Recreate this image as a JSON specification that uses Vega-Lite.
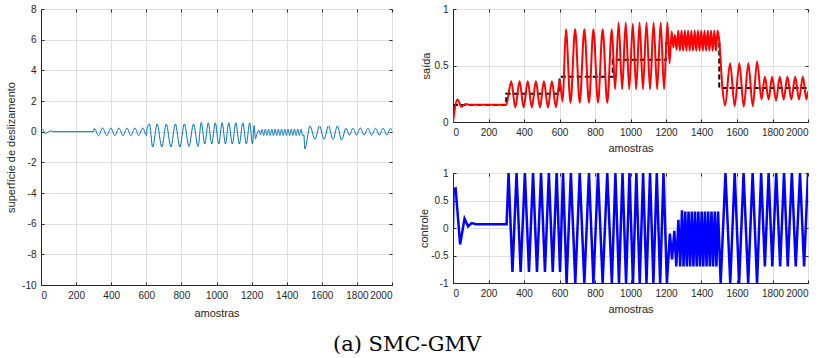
{
  "$schema": "https://vega.github.io/schema/vega-lite/v6.json",
  "padding": {"left": 5, "top": 3, "right": 0, "bottom": 0},
  "background": "white",
  "config": {
    "view": {"stroke": "#262626", "strokeWidth": 1},
    "axis": {
      "labelFont": "Liberation Sans", "labelFontSize": 10, "labelColor": "#262626",
      "titleFont": "Liberation Sans", "titleFontSize": 11, "titleFontWeight": "normal", "titleColor": "#262626",
      "domainColor": "#262626", "tickColor": "#262626", "tickSize": -3, "labelPadding": 8,
      "gridColor": "#dfdfdf", "gridWidth": 1, "labelExpr": "'' + datum.value"
    }
  },
  "title": {"text": "(a) SMC-GMV", "orient": "bottom", "font": "DejaVu Serif", "fontSize": 21, "fontWeight": "normal", "color": "#000000", "offset": 15, "anchor": "middle"},
  "datasets": {
    "s": [
      {"n":0,"v":0.25},{"n":12,"v":0.12},{"n":25,"v":-0.12},{"n":40,"v":-0.03},{"n":55,"v":0.05},{"n":75,"v":0.0},{"n":300,"v":0.0},
      {"n":303,"v":0.22},{"n":328,"v":-0.26},{"n":351,"v":0.24},{"n":375,"v":-0.26},{"n":398,"v":0.24},{"n":421,"v":-0.26},{"n":444,"v":0.24},{"n":467,"v":-0.26},{"n":490,"v":0.24},{"n":512,"v":-0.26},{"n":535,"v":0.24},{"n":557,"v":-0.26},{"n":580,"v":0.24},{"n":601,"v":-0.25},
      {"n":604,"v":0.2},{"n":618,"v":0.5},{"n":636,"v":-1.0},{"n":662,"v":0.5},{"n":688,"v":-1.0},{"n":714,"v":0.5},{"n":740,"v":-1.0},{"n":766,"v":0.5},{"n":791,"v":-1.0},{"n":817,"v":0.5},{"n":843,"v":-0.97},{"n":869,"v":0.5},{"n":895,"v":-0.97},
      {"n":913,"v":0.6},{"n":933,"v":-0.8},{"n":953,"v":0.58},{"n":973,"v":-0.8},{"n":993,"v":0.58},{"n":1013,"v":-0.8},{"n":1032,"v":0.58},{"n":1051,"v":-0.8},{"n":1070,"v":0.58},{"n":1090,"v":-0.8},{"n":1110,"v":0.58},{"n":1130,"v":-0.8},{"n":1150,"v":0.58},{"n":1170,"v":-0.8},{"n":1189,"v":0.58},{"n":1205,"v":-0.8},
      {"n":1214,"v":0.4},{"n":1222,"v":-0.45},{"n":1232,"v":-0.1},{"n":1241,"v":0.1},{"n":1250.5,"v":-0.2},{"n":1259.5,"v":0.15},{"n":1269,"v":-0.25},{"n":1278,"v":0.16},{"n":1287.5,"v":-0.25},{"n":1296.5,"v":0.16},{"n":1306,"v":-0.25},{"n":1315,"v":0.16},{"n":1324.5,"v":-0.25},{"n":1333.5,"v":0.16},{"n":1343,"v":-0.25},{"n":1352,"v":0.16},{"n":1361.5,"v":-0.25},{"n":1370.5,"v":0.16},{"n":1380,"v":-0.25},{"n":1389,"v":0.16},{"n":1398.5,"v":-0.25},{"n":1407.5,"v":0.16},{"n":1417,"v":-0.25},{"n":1426,"v":0.16},{"n":1435.5,"v":-0.25},{"n":1444.5,"v":0.16},{"n":1454,"v":-0.25},{"n":1463,"v":0.16},{"n":1472.5,"v":-0.25},{"n":1481.5,"v":0.16},{"n":1491,"v":-0.25},
      {"n":1498,"v":-0.2},{"n":1503,"v":-1.12},{"n":1533,"v":0.37},{"n":1561,"v":-0.5},{"n":1587,"v":0.37},{"n":1613,"v":-0.5},{"n":1638,"v":0.38},{"n":1664,"v":-0.5},{"n":1689,"v":0.37},{"n":1713,"v":-0.55},
      {"n":1738,"v":0.22},{"n":1757,"v":-0.22},{"n":1778,"v":0.22},{"n":1798,"v":-0.22},{"n":1820,"v":0.24},{"n":1841,"v":-0.22},{"n":1863,"v":0.22},{"n":1884,"v":-0.22},{"n":1906,"v":0.22},{"n":1928,"v":-0.22},{"n":1949,"v":0.22},{"n":1971,"v":-0.22},{"n":1991,"v":0.22},{"n":2000,"v":0.08}
    ],
    "y": [
      {"n":0,"v":0},{"n":25,"v":0.2},{"n":48,"v":0.135},{"n":72,"v":0.16},{"n":95,"v":0.152},{"n":300,"v":0.152},
      {"n":328,"v":0.36},{"n":351,"v":0.13},{"n":375,"v":0.36},{"n":398,"v":0.13},{"n":421,"v":0.36},{"n":444,"v":0.13},{"n":467,"v":0.36},{"n":490,"v":0.13},{"n":512,"v":0.36},{"n":535,"v":0.13},{"n":557,"v":0.36},{"n":580,"v":0.13},{"n":601,"v":0.37},
      {"n":618,"v":0.18},{"n":636,"v":0.82},{"n":662,"v":0.17},{"n":688,"v":0.82},{"n":714,"v":0.17},{"n":740,"v":0.82},{"n":766,"v":0.17},{"n":791,"v":0.82},{"n":817,"v":0.17},{"n":843,"v":0.82},{"n":869,"v":0.17},{"n":895,"v":0.82},
      {"n":913,"v":0.29},{"n":933,"v":0.88},{"n":953,"v":0.29},{"n":973,"v":0.88},{"n":993,"v":0.29},{"n":1013,"v":0.87},{"n":1032,"v":0.29},{"n":1051,"v":0.88},{"n":1070,"v":0.29},{"n":1090,"v":0.88},{"n":1110,"v":0.29},{"n":1130,"v":0.88},{"n":1150,"v":0.29},{"n":1170,"v":0.88},{"n":1189,"v":0.29},{"n":1208,"v":0.88},
      {"n":1220,"v":0.52},{"n":1232,"v":0.8},{"n":1241,"v":0.66},{"n":1250.5,"v":0.77},{"n":1259.5,"v":0.64},{"n":1269,"v":0.81},{"n":1278,"v":0.63},{"n":1287.5,"v":0.81},{"n":1296.5,"v":0.63},{"n":1306,"v":0.81},{"n":1315,"v":0.63},{"n":1324.5,"v":0.81},{"n":1333.5,"v":0.63},{"n":1343,"v":0.81},{"n":1352,"v":0.63},{"n":1361.5,"v":0.81},{"n":1370.5,"v":0.63},{"n":1380,"v":0.81},{"n":1389,"v":0.63},{"n":1398.5,"v":0.81},{"n":1407.5,"v":0.63},{"n":1417,"v":0.81},{"n":1426,"v":0.63},{"n":1435.5,"v":0.81},{"n":1444.5,"v":0.63},{"n":1454,"v":0.81},{"n":1463,"v":0.63},{"n":1472.5,"v":0.81},{"n":1481.5,"v":0.63},{"n":1491,"v":0.81},
      {"n":1500,"v":0.72},{"n":1518,"v":0.3},{"n":1533,"v":0.145},{"n":1561,"v":0.52},{"n":1587,"v":0.14},{"n":1613,"v":0.52},{"n":1638,"v":0.135},{"n":1664,"v":0.52},{"n":1689,"v":0.14},{"n":1713,"v":0.535},
      {"n":1738,"v":0.2},{"n":1757,"v":0.4},{"n":1778,"v":0.2},{"n":1798,"v":0.4},{"n":1820,"v":0.19},{"n":1841,"v":0.4},{"n":1863,"v":0.2},{"n":1884,"v":0.4},{"n":1906,"v":0.2},{"n":1928,"v":0.4},{"n":1949,"v":0.2},{"n":1971,"v":0.4},{"n":1991,"v":0.2},{"n":2000,"v":0.27}
    ],
    "r": [
      {"n":0,"v":0.15},{"n":300,"v":0.25},{"n":600,"v":0.4},{"n":900,"v":0.55},{"n":1200,"v":0.7},{"n":1500,"v":0.3},{"n":2000,"v":0.3}
    ],
    "u": [
      {"n":0,"v":0},{"n":3,"v":0.7},{"n":15,"v":0.72},{"n":40,"v":-0.3},{"n":65,"v":0.17},{"n":85,"v":0.03},{"n":105,"v":0.09},{"n":130,"v":0.07},{"n":302,"v":0.07},
      {"n":313,"v":1},{"n":335,"v":-0.8},{"n":358,"v":1},{"n":381,"v":-0.8},{"n":405,"v":1},{"n":428,"v":-0.8},{"n":451,"v":1},{"n":473,"v":-0.8},{"n":496,"v":1},{"n":518,"v":-0.8},{"n":540,"v":1},{"n":562,"v":-0.8},{"n":584,"v":1},{"n":603,"v":-0.8},
      {"n":620,"v":1},{"n":640,"v":-1},{"n":664,"v":1},{"n":689,"v":-1},{"n":714,"v":1},{"n":740,"v":-1},{"n":766,"v":1},{"n":791,"v":-1},{"n":817,"v":1},{"n":843,"v":-1},{"n":869,"v":1},{"n":895,"v":-1},
      {"n":915,"v":1},{"n":935,"v":-1},{"n":955,"v":1},{"n":975,"v":-1},{"n":994,"v":1},{"n":1014,"v":-1},{"n":1033,"v":1},{"n":1052,"v":-1},{"n":1071,"v":1},{"n":1090,"v":-1},{"n":1110,"v":1},{"n":1129,"v":-1},{"n":1148,"v":1},{"n":1167,"v":-1},{"n":1186,"v":1},{"n":1205,"v":-1},
      {"n":1222,"v":-0.1},{"n":1234,"v":-0.57},{"n":1247,"v":-0.05},{"n":1258,"v":-0.7},{"n":1270,"v":0.15},{"n":1280,"v":-0.7},{"n":1290,"v":0.32},
      {"n":1299,"v":-0.7},{"n":1308.5,"v":0.3},{"n":1317.5,"v":-0.7},{"n":1327,"v":0.3},{"n":1336,"v":-0.7},{"n":1345.5,"v":0.3},{"n":1354.5,"v":-0.7},{"n":1364,"v":0.3},{"n":1373,"v":-0.7},{"n":1382.5,"v":0.3},{"n":1391.5,"v":-0.7},{"n":1401,"v":0.3},{"n":1410,"v":-0.7},{"n":1419.5,"v":0.3},{"n":1428.5,"v":-0.7},{"n":1438,"v":0.3},{"n":1447,"v":-0.7},{"n":1456.5,"v":0.3},{"n":1465.5,"v":-0.7},{"n":1475,"v":0.3},{"n":1484,"v":-0.7},{"n":1493.5,"v":0.3},
      {"n":1508,"v":-1},{"n":1535,"v":1},{"n":1562,"v":-1},{"n":1587,"v":1},{"n":1612,"v":-1},{"n":1637,"v":1},{"n":1663,"v":-1},{"n":1688,"v":1},{"n":1713,"v":-1},{"n":1736,"v":1},
      {"n":1757,"v":-0.7},{"n":1778,"v":1},{"n":1799,"v":-0.7},{"n":1821,"v":1},{"n":1843,"v":-0.7},{"n":1865,"v":1},{"n":1886,"v":-0.7},{"n":1909,"v":1},{"n":1931,"v":-0.7},{"n":1955,"v":1},{"n":1978,"v":-0.7},{"n":2000,"v":1}
    ]
  },
  "spacing": 25,
  "hconcat": [
    {
      "width": 351, "height": 276,
      "data": {"name": "s"},
      "resolve": {"axis": {"x": "independent", "y": "independent"}},
      "layer": [
        {
          "mark": {"type": "line", "color": "#0072BD", "strokeWidth": 1, "interpolate": "monotone", "clip": true},
          "encoding": {
            "x": {"field": "n", "type": "quantitative", "scale": {"domain": [0, 2000], "nice": false}, "axis": {"title": "amostras", "titlePadding": 7, "values": [0,200,400,600,800,1000,1200,1400,1600,1800,2000]}},
            "y": {"field": "v", "type": "quantitative", "scale": {"domain": [-10, 8], "nice": false, "zero": false}, "axis": {"title": "superfície de deslizamento", "titlePadding": 5, "values": [-10,-8,-6,-4,-2,0,2,4,6,8]}}
          }
        },
        {
          "mark": {"type": "line", "opacity": 0},
          "encoding": {
            "x": {"field": "n", "type": "quantitative", "axis": {"orient": "top", "labels": false, "title": null, "grid": false, "domain": false, "values": [0,200,400,600,800,1000,1200,1400,1600,1800,2000]}},
            "y": {"field": "v", "type": "quantitative", "axis": {"orient": "right", "labels": false, "title": null, "grid": false, "domain": false, "values": [-10,-8,-6,-4,-2,0,2,4,6,8]}}
          }
        }
      ]
    },
    {
      "spacing": 13,
      "vconcat": [
        {
          "width": 355, "height": 113,
          "resolve": {"axis": {"x": "independent", "y": "independent"}},
          "layer": [
            {
              "data": {"name": "r"},
              "mark": {"type": "line", "color": "#000000", "strokeWidth": 2, "strokeDash": [5, 3], "interpolate": "step-after", "clip": true},
              "encoding": {
                "x": {"field": "n", "type": "quantitative", "scale": {"domain": [0, 2000], "nice": false}, "axis": {"title": "amostras", "titlePadding": 5, "values": [0,200,400,600,800,1000,1200,1400,1600,1800,2000]}},
                "y": {"field": "v", "type": "quantitative", "scale": {"domain": [0, 1], "nice": false}, "axis": {"title": "saída", "titlePadding": 3, "values": [0, 0.5, 1]}}
              }
            },
            {
              "data": {"name": "y"},
              "mark": {"type": "line", "color": "#FF0000", "strokeWidth": 2, "interpolate": "monotone", "clip": true},
              "encoding": {
                "x": {"field": "n", "type": "quantitative", "axis": null},
                "y": {"field": "v", "type": "quantitative", "axis": null}
              }
            },
            {
              "data": {"name": "r"},
              "mark": {"type": "line", "opacity": 0},
              "encoding": {
                "x": {"field": "n", "type": "quantitative", "axis": {"orient": "top", "labels": false, "title": null, "grid": false, "domain": false, "values": [0,200,400,600,800,1000,1200,1400,1600,1800,2000]}},
                "y": {"field": "v", "type": "quantitative", "axis": {"orient": "right", "labels": false, "title": null, "grid": false, "domain": false, "values": [0, 0.5, 1]}}
              }
            }
          ]
        },
        {
          "width": 355, "height": 110,
          "data": {"name": "u"},
          "resolve": {"axis": {"x": "independent", "y": "independent"}},
          "layer": [
            {
              "mark": {"type": "line", "color": "#0000FF", "strokeWidth": 2.5, "clip": true},
              "encoding": {
                "x": {"field": "n", "type": "quantitative", "scale": {"domain": [0, 2000], "nice": false}, "axis": {"title": "amostras", "titlePadding": 5, "values": [0,200,400,600,800,1000,1200,1400,1600,1800,2000]}},
                "y": {"field": "v", "type": "quantitative", "scale": {"domain": [-1, 1], "nice": false}, "axis": {"title": "controle", "titlePadding": 1, "values": [-1, -0.5, 0, 0.5, 1]}}
              }
            },
            {
              "mark": {"type": "line", "opacity": 0},
              "encoding": {
                "x": {"field": "n", "type": "quantitative", "axis": {"orient": "top", "labels": false, "title": null, "grid": false, "domain": false, "values": [0,200,400,600,800,1000,1200,1400,1600,1800,2000]}},
                "y": {"field": "v", "type": "quantitative", "axis": {"orient": "right", "labels": false, "title": null, "grid": false, "domain": false, "values": [-1, -0.5, 0, 0.5, 1]}}
              }
            }
          ]
        }
      ]
    }
  ]
}
